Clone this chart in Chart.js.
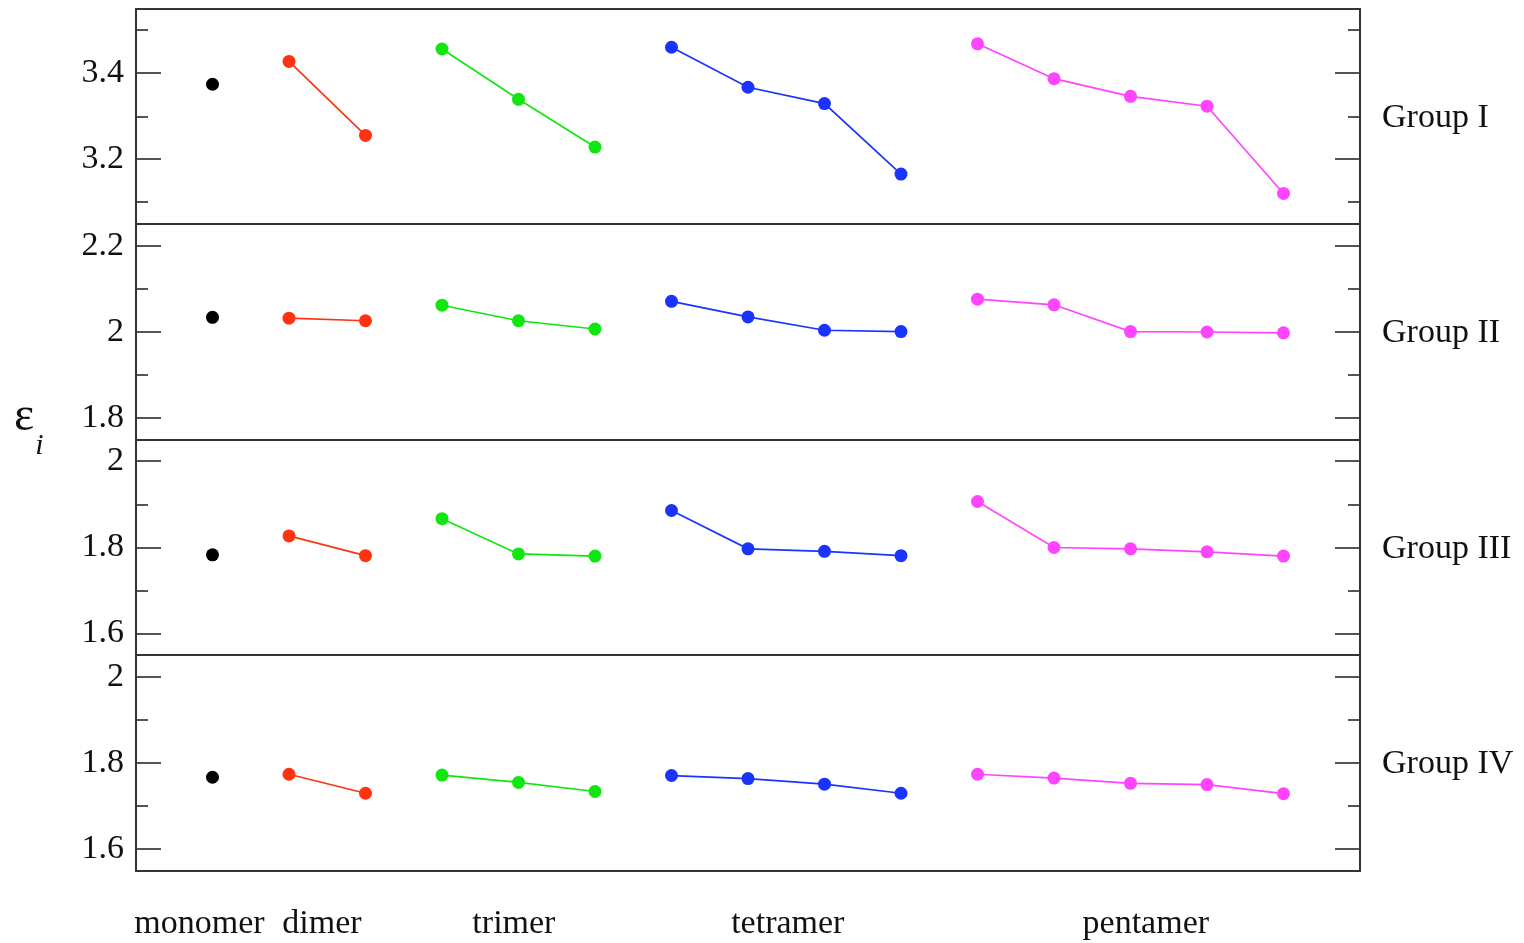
<!DOCTYPE html>
<html>
<head>
<meta charset="utf-8">
<script src="https://cdn.jsdelivr.net/npm/chart.js@4/dist/chart.umd.min.js"></script>
<style>
  html, body { margin: 0; padding: 0; background: #ffffff; }
  #wrap { position: relative; width: 1524px; height: 943px; overflow: hidden; }
  #wrap canvas { position: absolute; left: 0; top: 0; }
  #ylab { position: absolute; left: 14px; top: 386px; font-family: "Liberation Serif", serif; color: #111; white-space: nowrap; }
  #ylab .eps { font-size: 48px; }
  #ylab .sub { font-size: 30px; font-style: italic; position: relative; top: 24px; left: 1px; }
</style>
</head>
<body>
<div id="wrap">
  <canvas id="p1" width="1524" height="943"></canvas>
  <canvas id="p2" width="1524" height="943"></canvas>
  <canvas id="p3" width="1524" height="943"></canvas>
  <canvas id="p4" width="1524" height="943"></canvas>
  <div id="ylab"><span class="eps">ε</span><span class="sub">i</span></div>
</div>
<script>
// Cluster sizes shown along the bottom, and where their names sit on the x scale
const clusterNames = ['monomer', 'dimer', 'trimer', 'tetramer', 'pentamer'];
const clusterLabelAt = [0.83, 2.43, 4.94, 8.52, 13.2];

// Orbital energies per group, one inner list per cluster size
const groupI   = [[3.375], [3.428, 3.256], [3.457, 3.340, 3.229],
                  [3.461, 3.368, 3.330, 3.166], [3.469, 3.388, 3.347, 3.324, 3.121]];
const groupII  = [[2.034], [2.032, 2.026], [2.062, 2.026, 2.007],
                  [2.071, 2.035, 2.004, 2.001], [2.076, 2.063, 2.001, 2.000, 1.998]];
const groupIII = [[1.783], [1.827, 1.781], [1.867, 1.785, 1.780],
                  [1.886, 1.797, 1.791, 1.781], [1.907, 1.800, 1.797, 1.790, 1.780]];
const groupIV  = [[1.767], [1.774, 1.730], [1.772, 1.755, 1.734],
                  [1.771, 1.764, 1.751, 1.730], [1.774, 1.765, 1.753, 1.750, 1.729]];

const groupNames = ['Group I', 'Group II', 'Group III', 'Group IV'];

// Axis ranges and tick values for each panel
const yRanges = [[3.05, 3.55], [1.75, 2.25], [1.55, 2.05], [1.55, 2.05]];
const majorTicks = [[3.2, 3.4], [1.8, 2.0, 2.2], [1.6, 1.8, 2.0], [1.6, 1.8, 2.0]];
const minorTicks = [[3.1, 3.3, 3.5], [1.9, 2.1], [1.7, 1.9], [1.7, 1.9]];

const clusterColors = ['#000000', '#ff3311', '#11e611', '#1a33ff', '#ff44ff'];

const W = 1524, H = 943;
const panelEdges = [9, 224, 440, 655, 871];
const plotLeft = 136, plotRight = 1360;
const serif = '"Liberation Serif", "DejaVu Serif", serif';

function buildDatasets(group) {
  const sets = [];
  let start = 1;
  group.forEach((vals, k) => {
    sets.push({
      data: vals.map((v, j) => ({ x: start + j, y: v })),
      borderColor: clusterColors[k],
      backgroundColor: clusterColors[k],
      pointBackgroundColor: clusterColors[k],
      pointBorderColor: clusterColors[k],
      borderWidth: 1.7,
      pointRadius: 6.5,
      pointBorderWidth: 0,
      showLine: true,
      tension: 0
    });
    start += vals.length;
  });
  return sets;
}

// Frame, inward tick marks on both sides, and the group name at the right
const framePlugin = {
  id: 'frame',
  beforeDatasetsDraw(chart, args, opts) {
    const { ctx, chartArea: a } = chart;
    const ys = chart.scales.y;
    ctx.save();
    ctx.strokeStyle = '#555555';
    ctx.lineWidth = 2;
    const mark = (v, len) => {
      const py = Math.round(ys.getPixelForValue(v));
      ctx.beginPath();
      ctx.moveTo(a.left, py); ctx.lineTo(a.left + len, py);
      ctx.moveTo(a.right, py); ctx.lineTo(a.right - len, py);
      ctx.stroke();
    };
    opts.major.forEach(v => mark(v, 25));
    opts.minor.forEach(v => mark(v, 12));
    ctx.strokeStyle = '#333333';
    ctx.lineWidth = 2;
    ctx.strokeRect(a.left, a.top, a.right - a.left, a.bottom - a.top);
    ctx.restore();
  },
  afterDraw(chart, args, opts) {
    const { ctx, chartArea: a } = chart;
    ctx.save();
    ctx.fillStyle = '#111111';
    ctx.font = '34px ' + serif;
    ctx.textAlign = 'left';
    ctx.textBaseline = 'alphabetic';
    ctx.fillText(opts.name, a.right + 22, (a.top + a.bottom) / 2 + 10);
    ctx.restore();
  }
};

const groups = [groupI, groupII, groupIII, groupIV];

groups.forEach((group, i) => {
  const last = i === groups.length - 1;
  const top = panelEdges[i], bottom = panelEdges[i + 1];
  new Chart(document.getElementById('p' + (i + 1)), {
    type: 'scatter',
    data: { datasets: buildDatasets(group) },
    options: {
      responsive: false,
      animation: false,
      devicePixelRatio: 1,
      layout: { padding: { top: top, bottom: last ? 0 : H - bottom, left: 0, right: W - plotRight } },
      plugins: {
        legend: { display: false },
        tooltip: { enabled: false },
        frame: { major: majorTicks[i], minor: minorTicks[i], name: groupNames[i] }
      },
      scales: {
        x: {
          type: 'linear',
          min: 0, max: 16,
          display: last,
          grid: { display: false, drawTicks: false },
          border: { display: false },
          afterBuildTicks: s => { s.ticks = clusterLabelAt.map(v => ({ value: v })); },
          afterFit: s => {
            s.height = last ? H - panelEdges[4] : 0;
            s.paddingLeft = 0; s.paddingRight = 0;
          },
          ticks: {
            autoSkip: false,
            maxRotation: 0,
            padding: 33,
            color: '#111111',
            font: { family: serif, size: 34 },
            callback: (v, idx) => clusterNames[idx]
          }
        },
        y: {
          type: 'linear',
          min: yRanges[i][0], max: yRanges[i][1],
          grid: { display: false, drawTicks: false },
          border: { display: false },
          afterBuildTicks: s => { s.ticks = majorTicks[i].map(v => ({ value: v })); },
          afterFit: s => {
            s.width = plotLeft;
            s.paddingTop = 0; s.paddingBottom = 0;
          },
          ticks: {
            autoSkip: false,
            padding: 12,
            color: '#111111',
            font: { family: serif, size: 34 },
            callback: v => String(+v.toFixed(1))
          }
        }
      }
    },
    plugins: [framePlugin]
  });
});
</script>
</body>
</html>
